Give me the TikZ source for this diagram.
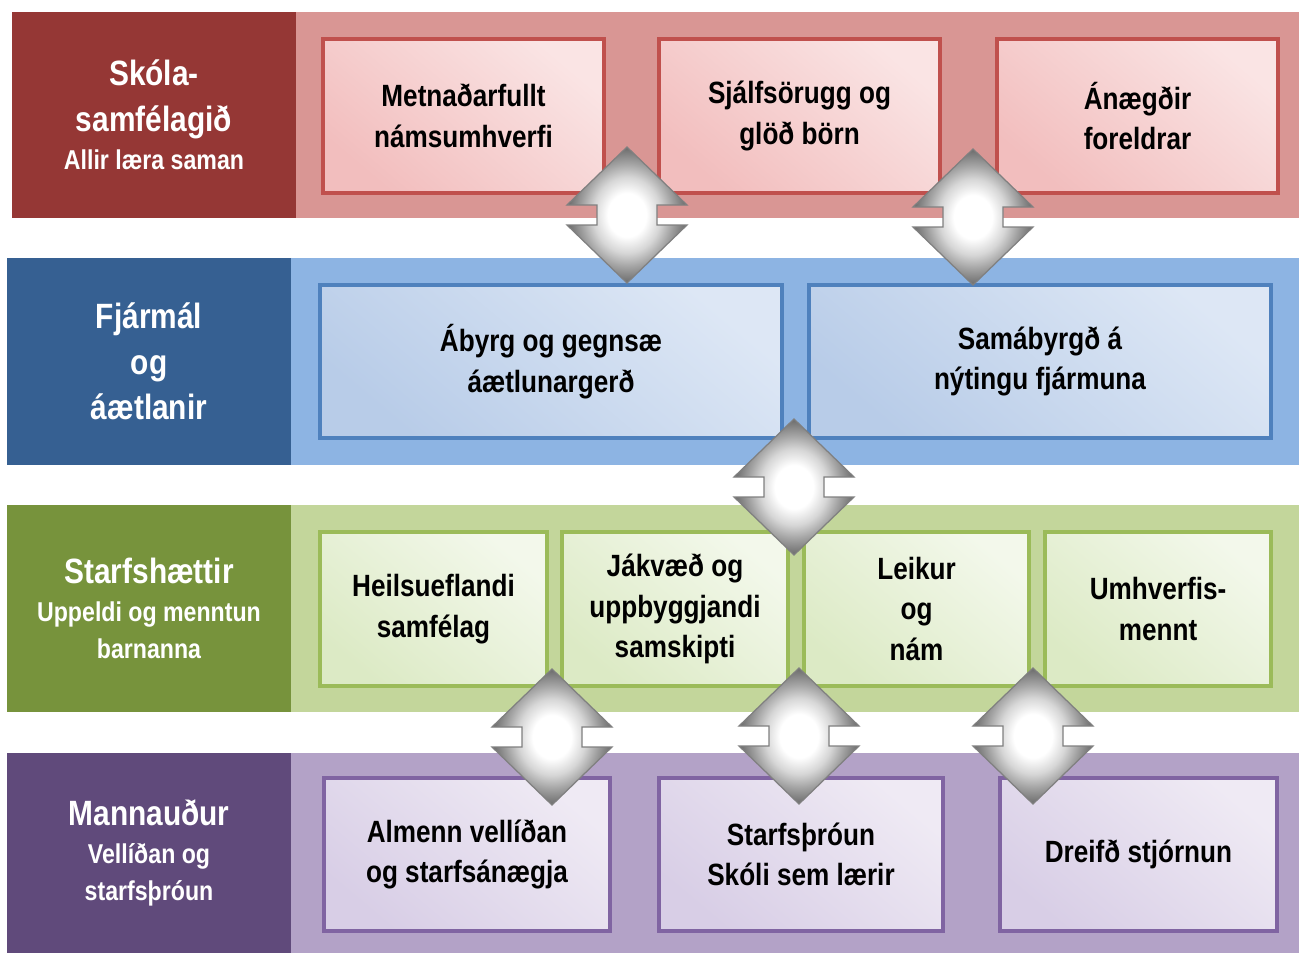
\documentclass[tikz,border=0pt]{standalone}
\usepackage{fontspec}
\setmainfont{Liberation Sans}[FakeStretch=0.85]
\usetikzlibrary{shapes.misc}

\definecolor{redDark}{HTML}{953735}
\definecolor{redBand}{HTML}{D99694}
\definecolor{redLine}{HTML}{C0504D}
\definecolor{redTop}{HTML}{FAE4E4}
\definecolor{redBottom}{HTML}{F2BEBE}
\definecolor{blueDark}{HTML}{366092}
\definecolor{blueBand}{HTML}{8DB4E3}
\definecolor{blueLine}{HTML}{4F81BD}
\definecolor{blueTop}{HTML}{DDE7F5}
\definecolor{blueBottom}{HTML}{B8CCE8}
\definecolor{greenDark}{HTML}{77933C}
\definecolor{greenBand}{HTML}{C3D69B}
\definecolor{greenLine}{HTML}{9BBB59}
\definecolor{greenTop}{HTML}{F3F8EB}
\definecolor{greenBottom}{HTML}{DCEAC5}
\definecolor{purpleDark}{HTML}{604A7B}
\definecolor{purpleBand}{HTML}{B3A2C7}
\definecolor{purpleLine}{HTML}{8064A2}
\definecolor{purpleTop}{HTML}{EFEAF4}
\definecolor{purpleBottom}{HTML}{D8CEE6}

\pgfdeclareradialshading{bevel}{\pgfpoint{0bp}{0bp}}{color(0bp)=(white); color(8bp)=(white); color(14bp)=(black!16); color(19bp)=(black!36); color(25bp)=(black!58); color(50bp)=(black!58)}

\newcommand{\titlefont}{\fontsize{20}{21}\selectfont}
\newcommand{\subfont}{\fontsize{15.5}{21}\selectfont}

\begin{document}
\begin{tikzpicture}[x=0.02cm,y=-0.02cm,
    font=\bfseries,
    band/.style={inner sep=0pt,outer sep=0pt,minimum height=#1},
    head/.style={band=#1,text=white,align=center,minimum width=5.68cm,font=\bfseries\titlefont},
    item/.style={draw=#1Line,line width=0.08cm,align=center,inner sep=2pt,minimum height=3.07cm,
        top color=#1Top,bottom color=#1Bottom,shading angle=-40,
        font=\bfseries\fontsize{17.5}{23}\selectfont},
    dblarrow/.pic={
        \shade[draw=black!50,line width=0.7pt,shading=bevel]
            (0,-68) -- (60,-10) -- (30,-10) -- (30,10) -- (60,10) -- (0,68) -- (-60,10)
            -- (-30,10) -- (-30,-10) -- (-60,-10) -- cycle;
    }]
    \useasboundingbox (0,0) rectangle (1299,953);

    % Skólasamfélagið
    \node[band=4.12cm,minimum width=20.06cm,fill=redBand] (skoliBand) at (797.5,115) {};
    \node[head=4.12cm,fill=redDark] (skoli) at (154,115) {Skóla-\\[5pt]samfélagið\\[1pt]\subfont Allir læra saman};
    \node[item=red,minimum width=5.62cm] (metnadur) at (463.5,116) {Metnaðarfullt\\námsumhverfi};
    \node[item=red,minimum width=5.62cm] (sjalfsorugg) at (799.5,116) {Sjálfsörugg og\\glöð börn};
    \node[item=red,minimum width=5.62cm] (anaegdir) at (1137.5,116) {Ánægðir\\foreldrar};

    % Fjármál og áætlanir
    \node[band=4.14cm,minimum width=20.16cm,fill=blueBand] (fjarmalBand) at (795,361.5) {};
    \node[head=4.14cm,fill=blueDark] (fjarmal) at (149,361.5) {Fjármál\\[5pt]og\\[5pt]áætlanir};
    \node[item=blue,minimum width=9.24cm] (abyrg) at (551,361.5) {Ábyrg og gegnsæ\\áætlunargerð};
    \node[item=blue,minimum width=9.24cm] (samabyrgd) at (1040,361.5) {Samábyrgð á\\nýtingu fjármuna};

    % Starfshættir
    \node[band=4.14cm,minimum width=20.16cm,fill=greenBand] (starfsBand) at (795,608.5) {};
    \node[head=4.14cm,fill=greenDark] (starfshaettir) at (149,608.5) {Starfshættir\\[1pt]\subfont Uppeldi og menntun\\\subfont barnanna};
    \node[item=green,minimum width=4.54cm] (heilsa) at (433.5,609) {Heilsueflandi\\samfélag};
    \node[item=green,minimum width=4.52cm] (jakvaed) at (675,609) {Jákvæð og\\uppbyggjandi\\samskipti};
    \node[item=green,minimum width=4.5cm] (leikur) at (916.5,609) {Leikur\\og\\nám};
    \node[item=green,minimum width=4.52cm] (umhverfi) at (1158,609) {Umhverfis-\\mennt};

    % Mannauður
    \node[band=4cm,minimum width=20.16cm,fill=purpleBand] (mannBand) at (795,853) {};
    \node[head=4cm,fill=purpleDark] (mannaudur) at (149,853) {Mannauður\\[1pt]\subfont Vellíðan og\\\subfont starfsþróun};
    \node[item=purple,minimum width=5.72cm] (vellidan) at (467,854.5) {Almenn vellíðan\\og starfsánægja};
    \node[item=purple,minimum width=5.68cm] (starfsthroun) at (801,854.5) {Starfsþróun\\Skóli sem lærir};
    \node[item=purple,minimum width=5.54cm] (dreifd) at (1138.5,854.5) {Dreifð stjórnun};

    % tvíhliða örvar
    \pic at (627,215) {dblarrow};
    \pic at (973,217) {dblarrow};
    \pic at (794,487) {dblarrow};
    \pic at (552,737) {dblarrow};
    \pic at (799,736) {dblarrow};
    \pic at (1033,736) {dblarrow};
\end{tikzpicture}
\end{document}
